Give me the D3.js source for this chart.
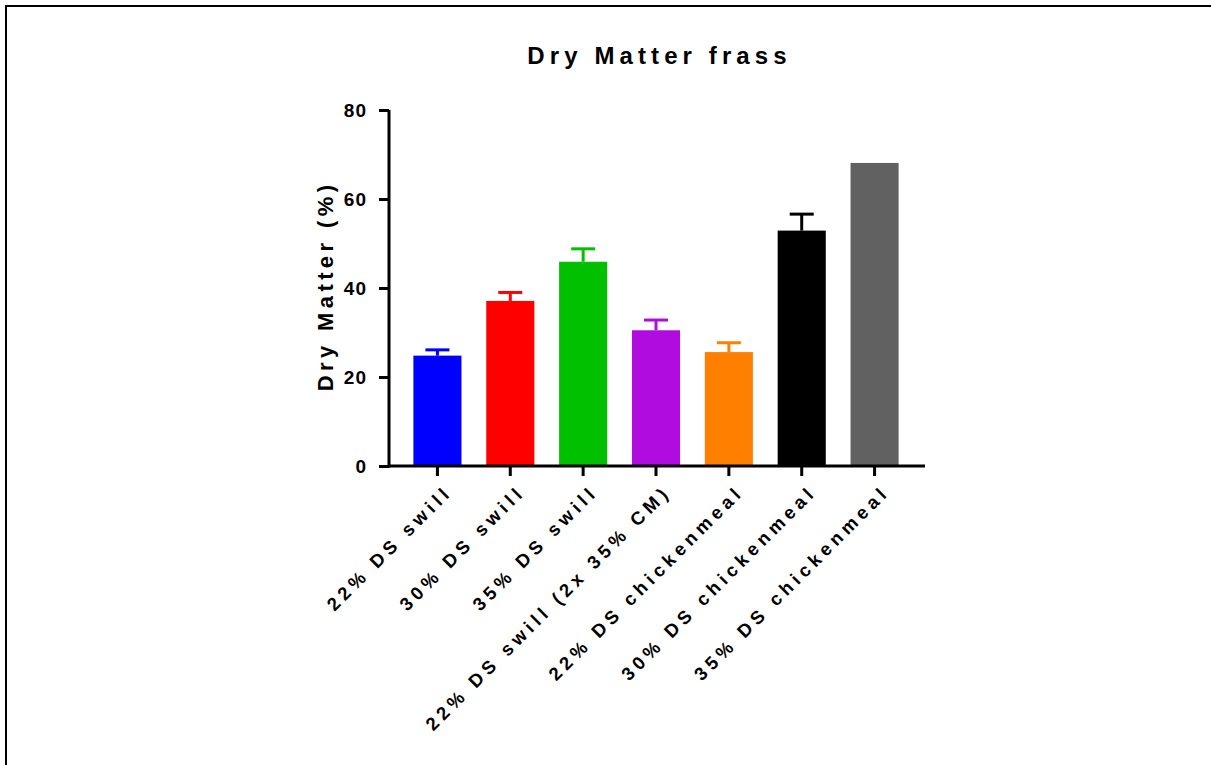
<!DOCTYPE html>
<html>
<head>
<meta charset="utf-8">
<script src="https://cdn.jsdelivr.net/npm/d3@7"></script>
<style>
	body { margin: 0; background: #fff; }
	text { font-family: "Liberation Sans", Arial, sans-serif; font-weight: bold; }
</style>
</head>
<body>
<div id="chart"></div>
<script>
let categories = ["22% DS swill", "30% DS swill", "35% DS swill", "22% DS swill (2x 35% CM)",
	"22% DS chickenmeal", "30% DS chickenmeal", "35% DS chickenmeal"];
let means = [24.8, 37.1, 45.9, 30.5, 25.6, 52.9, 68.1];
let errors = [1.3, 1.9, 2.9, 2.3, 2.1, 3.7, 0];
let colors = ["#0000ff", "#ff0000", "#00c000", "#b00ce0", "#ff8000", "#000000", "#616161"];
let yTicks = [0, 20, 40, 60, 80];

let W = 1211, H = 765;
let plotL = 389, plotR = 925, plotT = 110, plotB = 466;

let svg = d3.select("#chart").append("svg")
	.attr("width", W)
	.attr("height", H);

// frame edges of the original export
svg.append("line").attr("x1", 5).attr("x2", W).attr("y1", 6).attr("y2", 6)
	.attr("stroke", "#000").attr("stroke-width", 2);
svg.append("line").attr("x1", 6).attr("x2", 6).attr("y1", 5).attr("y2", H)
	.attr("stroke", "#000").attr("stroke-width", 2);

let x = d3.scaleBand()
	.domain(categories)
	.range([plotL + 12, plotR - 14])
	.paddingInner(0.34)
	.paddingOuter(0.17);

let y = d3.scaleLinear()
	.domain([0, 80])
	.range([plotB, plotT]);

let data = categories.map(function (c, i) {
	return {cat: c, mean: means[i], err: errors[i], color: colors[i]};
});

// bars
svg.selectAll("rect.bar")
	.data(data)
	.enter().append("rect")
	.attr("class", "bar")
	.attr("x", function (d) { return x(d.cat); })
	.attr("y", function (d) { return y(d.mean); })
	.attr("width", x.bandwidth())
	.attr("height", function (d) { return y(0) - y(d.mean); })
	.attr("fill", function (d) { return d.color; });

// error bars (upper only)
let eb = svg.selectAll("g.err")
	.data(data.filter(function (d) { return d.err > 0; }))
	.enter().append("g")
	.attr("class", "err");
eb.append("line")
	.attr("x1", function (d) { return x(d.cat) + x.bandwidth() / 2; })
	.attr("x2", function (d) { return x(d.cat) + x.bandwidth() / 2; })
	.attr("y1", function (d) { return y(d.mean); })
	.attr("y2", function (d) { return y(d.mean + d.err); })
	.attr("stroke", function (d) { return d.color; })
	.attr("stroke-width", 3);
eb.append("line")
	.attr("x1", function (d) { return x(d.cat) + x.bandwidth() / 2 - 12; })
	.attr("x2", function (d) { return x(d.cat) + x.bandwidth() / 2 + 12; })
	.attr("y1", function (d) { return y(d.mean + d.err); })
	.attr("y2", function (d) { return y(d.mean + d.err); })
	.attr("stroke", function (d) { return d.color; })
	.attr("stroke-width", 3);

// y axis
let yAxis = svg.append("g")
	.attr("transform", "translate(" + plotL + ",0)")
	.call(d3.axisLeft(y).tickValues(yTicks).tickSize(10).tickPadding(12));
yAxis.select(".domain").attr("stroke-width", 3).attr("d", "M0," + (plotB + 1.5) + "V" + plotT);
yAxis.selectAll(".tick line").attr("stroke-width", 3);
yAxis.selectAll(".tick text")
	.attr("font-size", 19)
	.attr("fill", "#000")
	.style("letter-spacing", "1px");

// x axis
let xAxis = svg.append("g")
	.attr("transform", "translate(0," + plotB + ")")
	.call(d3.axisBottom(x).tickSize(10).tickFormat(""));
xAxis.select(".domain").attr("stroke-width", 3).attr("d", "M" + plotL + ",0H" + plotR);
xAxis.selectAll(".tick line").attr("stroke-width", 3);

// rotated category labels
svg.selectAll("text.cat")
	.data(categories)
	.enter().append("text")
	.attr("class", "cat")
	.attr("text-anchor", "end")
	.attr("font-size", 18.5)
	.style("letter-spacing", "4.6px")
	.attr("transform", function (d) {
		return "translate(" + (x(d) + x.bandwidth() / 2 + 16) + "," + (plotB + 27) + ") rotate(-45)";
	})
	.text(function (d) { return d; });

// titles
svg.append("text")
	.attr("x", (plotL + plotR) / 2 + 2.5)
	.attr("y", 64)
	.attr("text-anchor", "middle")
	.attr("font-size", 24)
	.style("letter-spacing", "5.1px")
	.text("Dry Matter frass");

svg.append("text")
	.attr("transform", "translate(333," + ((plotT + plotB) / 2 - 2) + ") rotate(-90)")
	.attr("text-anchor", "middle")
	.attr("font-size", 22)
	.style("letter-spacing", "4.4px")
	.text("Dry Matter (%)");
</script>
</body>
</html>
